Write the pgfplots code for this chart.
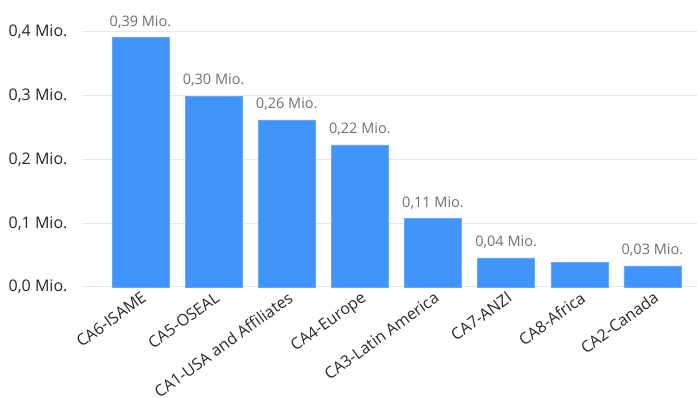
\documentclass[border=0pt]{standalone}
\usepackage{pgfplots}
\pgfplotsset{compat=1.18}
\usepackage{fontspec}
\setmainfont{Open Sans}
\definecolor{barblue}{RGB}{64,148,250}
\definecolor{gridc}{RGB}{232,232,232}
\definecolor{tickc}{RGB}{40,40,40}
\definecolor{valc}{RGB}{112,112,112}
\begin{document}
\begin{tikzpicture}[x=1pt,y=1pt]
\useasboundingbox (-82,-111) rectangle (615,287);
\begin{axis}[
  at={(0,0)}, anchor=south west,
  scale only axis, width=615pt, height=255pt,
  xmin=-0.8, xmax=7.61, ymin=0, ymax=0.4,
  axis line style={draw=none},
  major tick length=0pt,
  ytick={0,0.1,0.2,0.3,0.4},
  yticklabels={{0,0 Mio.},{0,1 Mio.},{0,2 Mio.},{0,3 Mio.},{0,4 Mio.}},
  ymajorgrids, grid style={gridc, line width=1pt},
  yticklabel style={font=\fontsize{16}{18}\selectfont, text=tickc, xshift=-11pt},
  xtick={0,1,2,3,4,5,6,7},
  xticklabels={CA6-ISAME,CA5-OSEAL,CA1-USA and Affiliates,CA4-Europe,CA3-Latin America,CA7-ANZI,CA8-Africa,CA2-Canada},
  xticklabel style={font=\fontsize{16}{18}\selectfont, text=tickc, rotate=36, anchor=north east, inner sep=1pt, yshift=-2pt, xshift=-1pt},
  clip=false,
]
\addplot[ybar, bar width=57pt, fill=barblue, draw=barblue!80!white,
  point meta=explicit symbolic,
  nodes near coords,
  every node near coord/.append style={font=\fontsize{14.5}{16}\selectfont, text=valc, anchor=south, inner sep=0pt, yshift=9pt},
] coordinates {
  (0,0.392) [{0,39 Mio.}]
  (1,0.2996) [{0,30 Mio.}]
  (2,0.262) [{0,26 Mio.}]
  (3,0.223) [{0,22 Mio.}]
  (4,0.108) [{0,11 Mio.}]
  (5,0.0455) [{0,04 Mio.}]
  (6,0.039) [{}]
  (7,0.033) [{0,03 Mio.}]
};
\end{axis}
\end{tikzpicture}
\end{document}
